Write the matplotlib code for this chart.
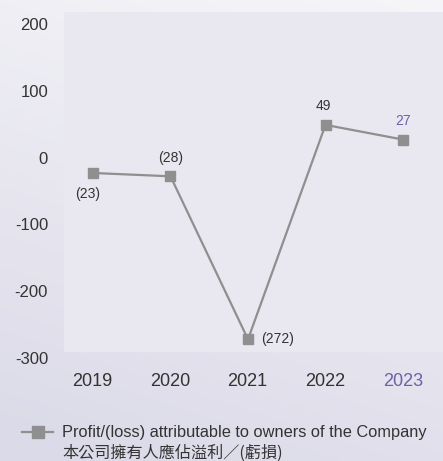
import numpy as np
import matplotlib
matplotlib.use("Agg")
import matplotlib.pyplot as plt
from matplotlib.patches import Rectangle

years = ["2019", "2020", "2021", "2022", "2023"]
profit = [-23, -28, -272, 49, 27]
value_labels = ["(23)", "(28)", "(272)", "49", "27"]
yticks = [200, 100, 0, -100, -200, -300]

W, H = 443, 461
fig = plt.figure(figsize=(W / 100, H / 100), dpi=100)

# background gradient
bg = fig.add_axes([0, 0, 1, 1], zorder=-10)
yy = np.linspace(0, 1, 200)[:, None]
xx = np.linspace(0, 1, 200)[None, :]
t = np.clip(yy * 0.8 + (1 - xx) * 0.25, 0, 1)
top = np.array([0.965, 0.965, 0.978])
bot = np.array([0.86, 0.855, 0.91])
img = top[None, None, :] * (1 - t[..., None]) + bot[None, None, :] * t[..., None]
bg.imshow(img, extent=[0, 1, 1, 0], aspect="auto")
bg.set_xlim(0, 1); bg.set_ylim(1, 0)
bg.axis("off")

def fx(px): return px / W
def fy(py): return 1 - py / H

# panel
fig.patches.append(Rectangle((fx(64), fy(352)), fx(443) - fx(64), fy(12) - fy(352),
                             transform=fig.transFigure, facecolor="#e9e8f1",
                             edgecolor="none", zorder=-5))

ax = fig.add_axes([fx(64), fy(358), fx(443) - fx(64), fy(12) - fy(358)])
ax.set_facecolor("none")
x = np.arange(len(years))
ax.set_xlim(-0.374, 4.516)
ax.set_ylim(-300, 218)
for s in ax.spines.values():
    s.set_visible(False)
line_c = "#8f8f8f"
ax.plot(x, profit, color=line_c, lw=1.6, marker="s", markersize=7.3,
        markerfacecolor=line_c, markeredgecolor=line_c, clip_on=False)

ax.set_yticks(yticks)
ax.set_yticklabels([str(v) for v in yticks], fontsize=12, color="#333333",
                   family="Liberation Sans")
ax.tick_params(axis="y", length=0, pad=11.5)
ax.set_xticks([])

txtc = "#333333"
purple = "#6d62a8"
fs = 10
ax.text(-0.07, -23 - 31, value_labels[0], ha="center", va="center", fontsize=fs, color=txtc, family="Liberation Sans")
ax.text(1, -28 + 28, value_labels[1], ha="center", va="center", fontsize=fs, color=txtc, family="Liberation Sans")
ax.text(2.17, -272, value_labels[2], ha="left", va="center", fontsize=fs, color=txtc, family="Liberation Sans")
ax.text(2.97, 49 + 28, value_labels[3], ha="center", va="center", fontsize=fs, color=txtc, family="Liberation Sans")
ax.text(4, 27 + 28, value_labels[4], ha="center", va="center", fontsize=fs, color=purple, family="Liberation Sans")

# year labels
for i, yr in enumerate(years):
    fig.text(fx(92 + i * 77.8), fy(381), yr, ha="center", va="center",
             fontsize=13, color=purple if i == 4 else txtc, family="Liberation Sans")

# legend
fig.lines.append(plt.Line2D([fx(22), fx(53)], [fy(432), fy(432)], transform=fig.transFigure,
                            color=line_c, lw=1.6))
fig.lines.append(plt.Line2D([fx(38)], [fy(432)], transform=fig.transFigure,
                            color=line_c, marker="s", markersize=8, lw=0))
fig.text(fx(62), fy(432), "Profit/(loss) attributable to owners of the Company",
         ha="left", va="center", fontsize=11.8, color=txtc, family="Liberation Sans")
fig.text(fx(62), fy(453), "本公司擁有人應佔溢利／(虧損)",
         ha="left", va="center", fontsize=11.6, color=txtc,
         family=["Noto Sans CJK TC", "DejaVu Sans"])

fig.savefig("out.png", dpi=100)
